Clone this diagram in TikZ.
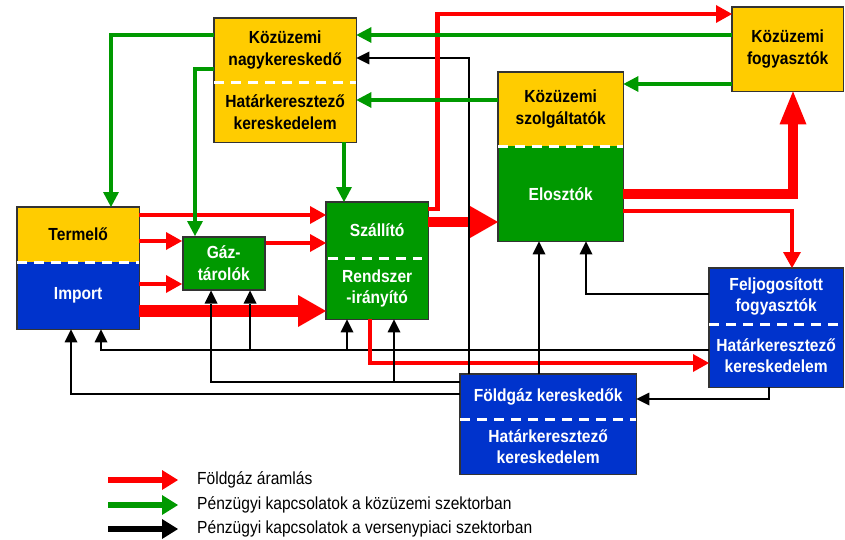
\documentclass[tikz,border=0pt]{standalone}
\usepackage{fontspec}
\setmainfont{Liberation Sans}[FakeStretch=0.89]
\usepackage{xcolor}
\usepackage{tikz}
\usetikzlibrary{arrows.meta}
\definecolor{kyellow}{HTML}{FFCC00}
\definecolor{kgreen}{HTML}{009900}
\definecolor{kblue}{HTML}{0033CC}
\definecolor{kred}{HTML}{FF0000}

\begin{document}
\begin{tikzpicture}
\tikzset{x={(1pt, 0pt)}, y={(0pt, -1pt)},
  box/.style={anchor=north west, inner sep=0pt, align=center, font=\fontsize{17.5}{21.5}\selectfont\bfseries},
  ybox/.style={box, fill=kyellow, text=black},
  gbox/.style={box, fill=kgreen, text=white},
  bluebox/.style={box, fill=kblue, text=white},
  boxframe/.style={draw=black!80, line width=1.5pt},
  splitline/.style={draw=white, line width=3.5pt, dash pattern=on 10pt off 7pt},
  gline/.style={draw=kgreen, line width=3.5pt, -{Triangle[length=15pt,width=16pt,line width=0pt]}},
  bline/.style={draw=black, line width=2.2pt, -{Triangle[length=13pt,width=13pt,line width=0pt]}},
  rline/.style={draw=kred, line width=4.5pt, -{Triangle[length=16pt,width=18pt,line width=0pt]}},
  rthick/.style={draw=kred, line width=12pt, -{Triangle[length=28pt,width=32pt,line width=0pt]}},
  rthicker/.style={draw=kred, line width=10pt, -{Triangle[length=33pt,width=27pt,line width=0pt]}},
  legtext/.style={anchor=west, inner sep=0pt, font=\fontsize{17.5}{20}\selectfont}}
\useasboundingbox (0,0) rectangle (845,540);

\node[ybox, minimum width=142pt, minimum height=64pt] (ngk) at (214,18) {Közüzemi\\nagykereskedő};
\node[ybox, minimum width=142pt, minimum height=60pt] (hk1) at (214,82) {Határkeresztező\\kereskedelem};
\node[ybox, minimum width=111pt, minimum height=84pt] (kfo) at (732,7) {Közüzemi\\fogyasztók};
\node[ybox, minimum width=125pt, minimum height=74pt] (ksz) at (498,72) {Közüzemi\\szolgáltatók};
\node[gbox, minimum width=125pt, minimum height=95pt] (elo) at (498,146) {Elosztók};
\node[ybox, minimum width=122pt, minimum height=55pt] (term) at (17,207) {Termelő};
\node[bluebox, minimum width=122pt, minimum height=67pt] (imp) at (17,262) {Import};
\node[gbox, boxframe, minimum width=82pt, minimum height=53pt] (gaz) at (182,236) {Gáz-\\tárolók};
\node[gbox, minimum width=102pt, minimum height=56pt] (szal) at (326,202) {Szállító};
\node[gbox, minimum width=102pt, minimum height=61pt] (rir) at (326,258) {Rendszer\\-irányító};
\node[bluebox, minimum width=134pt, minimum height=56pt] (felj) at (709,268) {Feljogosított\\fogyasztók};
\node[bluebox, minimum width=134pt, minimum height=63pt] (hk2) at (709,324) {Határkeresztező\\kereskedelem};
\node[bluebox, minimum width=176pt, minimum height=45pt] (fker) at (460,374) {Földgáz kereskedők};
\node[bluebox, minimum width=176pt, minimum height=55pt] (hk3) at (460,419) {Határkeresztező\\kereskedelem};

\draw[boxframe] (ngk.north west) rectangle (hk1.south east);
\draw[boxframe] (kfo.north west) rectangle (kfo.south east);
\draw[boxframe] (ksz.north west) rectangle (elo.south east);
\draw[boxframe] (term.north west) rectangle (imp.south east);
\draw[boxframe] (szal.north west) rectangle (rir.south east);
\draw[boxframe] (felj.north west) rectangle (hk2.south east);
\draw[boxframe] (fker.north west) rectangle (hk3.south east);
\draw[splitline] (ngk.south west) -- (ngk.south east);
\draw[splitline] (ksz.south west) -- (ksz.south east);
\draw[splitline] (term.south west) -- (term.south east);
\draw[splitline] ([xshift=2pt]szal.south west) -- ([xshift=-6pt]szal.south east);
\draw[splitline] (felj.south west) -- (felj.south east);
\draw[splitline] (fker.south west) -- (fker.south east);

\draw[bline] (hk2.west |- 0,350) -| (imp.south -| 101,0);
\draw[bline] (felj.west |- 0,294) -| (elo.south -| 586,0);
\draw[bline] (hk2.south -| 769,0) |- (fker.east |- 0,399);
\draw[bline] (fker.west |- 0,394) -| (imp.south -| 71,0);

\draw[rline] (term.east |- 0,215) -- (szal.west |- 0,215);
\draw[rline] (term.east |- 0,241) -- (gaz.west |- 0,241);
\draw[rline] (imp.east |- 0,284) -- (gaz.west |- 0,284);
\draw[rline] (gaz.east |- 0,243) -- (szal.west |- 0,243);
\draw[rthick] (imp.east |- 0,311) -- (rir.west |- 0,311);
\draw[rthick, line width=10pt] (szal.east |- 0,222) -- (elo.west |- 0,222);
\draw[rthicker] (elo.east |- 0,194) -| (kfo.south -| 793,0);
\draw[rline] (elo.east |- 0,211) -| (felj.north -| 792,0);
\draw[rline] (rir.south -| 370,0) |- (hk2.west |- 0,363);

\coordinate (j1) at (250,350);
\coordinate (j2) at (347,350);
\coordinate (j3) at (394,382);
\draw[bline] (fker.north -| 469,0) |- (ngk.east |- 0,58);
\draw[bline] (fker.north -| 539,0) -- (elo.south -| 539,0);
\draw[bline] (fker.west |- 0,382) -| (gaz.south -| 211,0);
\draw[bline] (j1) -- (gaz.south -| j1);
\draw[bline] (j2) -- (rir.south -| j2);
\draw[bline] (j3) -- (rir.south -| j3);

\draw[rline] (szal.east |- 0,209) -- ++(9,0) |- (kfo.west |- 0,14);

\draw[gline] (ngk.west |- 0,35) -| (term.north -| 111,0);
\draw[gline] (ngk.west |- 0,69) -| (gaz.north -| 195,0);
\draw[gline] (hk1.south -| 344,0) -- (szal.north -| 344,0);
\draw[gline] (kfo.west |- 0,35) -- (ngk.east |- 0,35);
\draw[gline] (ksz.west |- 0,100) -- (hk1.east |- 0,100);
\draw[gline] (kfo.west |- 0,84) -- (ksz.east |- 0,84);

\node[legtext] (lt1) at (197,480) {Földgáz áramlás};
\node[legtext] (lt2) at (197,505) {Pénzügyi kapcsolatok a közüzemi szektorban};
\node[legtext] (lt3) at (197,529) {Pénzügyi kapcsolatok a versenypiaci szektorban};
\draw[kred, line width=6pt, -{Triangle[length=16pt,width=20pt,line width=0pt]}] ([xshift=-89pt]lt1.west) -- ([xshift=-19pt]lt1.west);
\draw[kgreen, line width=6pt, -{Triangle[length=16pt,width=20pt,line width=0pt]}] ([xshift=-89pt]lt2.west) -- ([xshift=-19pt]lt2.west);
\draw[black, line width=6pt, -{Triangle[length=16pt,width=20pt,line width=0pt]}] ([xshift=-89pt]lt3.west) -- ([xshift=-19pt]lt3.west);
\end{tikzpicture}
\end{document}
